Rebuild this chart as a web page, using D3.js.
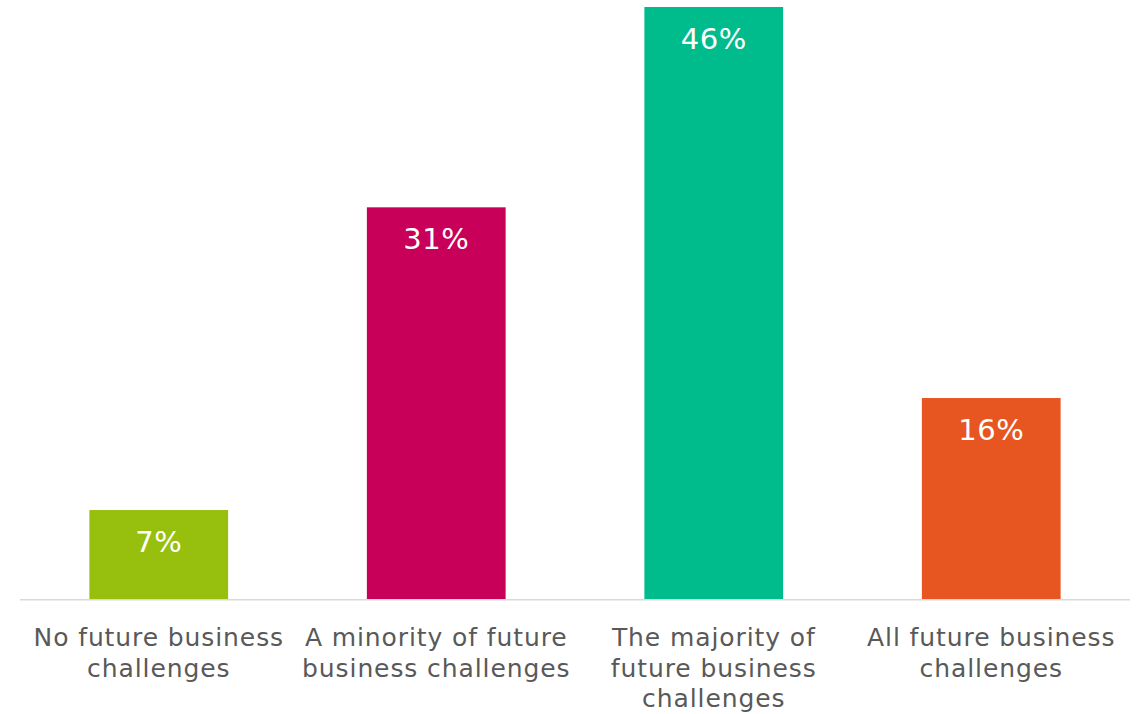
<!DOCTYPE html>
<html>
<head>
<meta charset="utf-8">
<script src="https://cdn.jsdelivr.net/npm/d3@7"></script>
<style>
  body { margin: 0; background: #fff; }
  text { font-family: "DejaVu Sans", Verdana, sans-serif; }
</style>
</head>
<body>
<div id="chart"></div>
<script>
// chart data (bar heights, labels show rounded values)
var categories = [
    ["No future business", "challenges"],
    ["A minority of future", "business challenges"],
    ["The majority of", "future business", "challenges"],
    ["All future business", "challenges"]
];
var values = [6.95, 30.6, 46.25, 15.7];
var barColors = ["#97bf0d", "#c8005a", "#00bb8c", "#e75621"];

var width = 1141,
    height = 714;

var margin = { top: 7, bottom: 115, left: 20, right: 11 };

var svg = d3.select("#chart")
    .append("svg")
    .attr("width", width)
    .attr("height", height);

var x = d3.scaleBand()
    .domain(d3.range(values.length))
    .range([margin.left, width - margin.right])
    .paddingInner(0.5)
    .paddingOuter(0.25);

var y = d3.scaleLinear()
    .domain([0, d3.max(values)])
    .range([height - margin.bottom, margin.top]);

var fmt = d3.format(".0f");

// bars
svg.selectAll(".bar")
    .data(values)
    .enter().append("rect")
    .attr("class", "bar")
    .attr("x", function(d, i) { return x(i); })
    .attr("y", function(d) { return y(d); })
    .attr("width", x.bandwidth())
    .attr("height", function(d) { return y(0) - y(d); })
    .attr("fill", function(d, i) { return barColors[i]; });

// baseline
svg.append("line")
    .attr("x1", margin.left)
    .attr("x2", width - margin.right)
    .attr("y1", y(0) + 0.75)
    .attr("y2", y(0) + 0.75)
    .attr("stroke", "#d9d9d9")
    .attr("stroke-width", 1.5);

// value labels inside bars
svg.selectAll(".value")
    .data(values)
    .enter().append("text")
    .attr("class", "value")
    .attr("x", function(d, i) { return x(i) + x.bandwidth() / 2; })
    .attr("y", function(d) { return y(d) + 42; })
    .attr("text-anchor", "middle")
    .attr("font-size", "29px")
    .attr("letter-spacing", "0.5px")
    .attr("fill", "#fff")
    .text(function(d) { return fmt(d) + "%"; });

// category labels
var cat = svg.selectAll(".cat")
    .data(categories)
    .enter().append("text")
    .attr("class", "cat")
    .attr("text-anchor", "middle")
    .attr("font-size", "25px")
    .attr("letter-spacing", "0.9px")
    .attr("fill", "#595959")
    .attr("transform", function(d, i) {
        return "translate(" + (x(i) + x.bandwidth() / 2) + "," + (y(0) + 47) + ")";
    });

cat.selectAll("tspan")
    .data(function(d) { return d; })
    .enter().append("tspan")
    .attr("x", 0)
    .attr("y", function(d, i) { return i * 30.5; })
    .text(function(d) { return d; });
</script>
</body>
</html>
